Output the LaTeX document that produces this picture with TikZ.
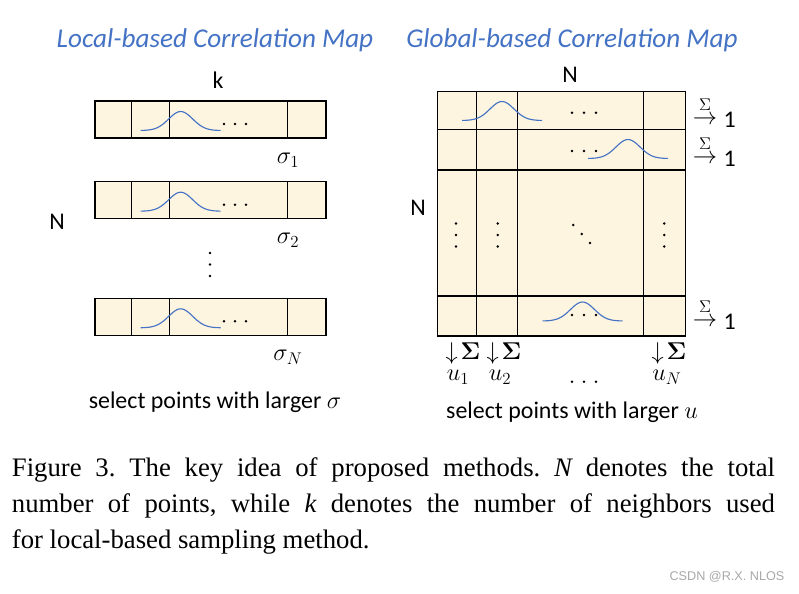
\documentclass[tikz,border=0pt]{standalone}
\usepackage{amsmath,amssymb}
\usepackage{fontspec}
\setmainfont{Carlito}
\newfontfamily\capfont{Liberation Serif}
\newfontfamily\wmfont{Liberation Sans}
\usetikzlibrary{positioning,calc}
\definecolor{mapblue}{HTML}{4472C4}
\definecolor{cellfill}{HTML}{FEF5E0}
\definecolor{wmgray}{HTML}{A8A8A8}
% gaussian bump: centre x, base y, height
\newcommand{\gaussbump}[3]{\draw[gauss] plot[domain=-40:40,samples=41,smooth] ({#1+\x},{#2-#3*exp(-((\x/12)^2)/2)});}

\begin{document}
\begin{tikzpicture}[x=0.025cm,y=-0.025cm,
  maptitle/.style={font=\fontsize{19.3}{22}\selectfont\itshape, text=mapblue},
  lbl/.style={font=\fontsize{17}{20}\selectfont, inner sep=1pt},
  sumlbl/.style={font=\fontsize{16}{16}\selectfont, inner sep=0pt},
  sigmalbl/.style={font=\fontsize{12.5}{13}\selectfont, inner sep=0pt},
  cell/.style={draw=black, fill=cellfill, line width=0.8pt},
  gridline/.style={draw=black, line width=0.8pt},
  gauss/.style={draw=mapblue, line width=0.8pt},
  dotmark/.style={fill=black, draw=none}
]
  \useasboundingbox (0,0) rectangle (799,593);

  % left: local-based map
  \node[maptitle] (ltitle) at (215,40) {Local-based Correlation Map};
  \node[lbl] (k) at (218,80) {k};
  \node[lbl] (nleft) at (57,222) {N};
  \foreach \t/\s/\name in {101/1/r1, 181.7/2/r2, 298.3/N/rN}{
    \draw[cell] (95,\t) rectangle (326,\t+37);
    \foreach \vx in {131.7,169.3,287.7}
      \draw[gridline] (\vx,\t) -- (\vx,\t+37);
    \gaussbump{180.7}{\t+29.5}{19}
    \foreach \dx in {224,235,246}
      \fill[dotmark] (\dx,\t+23) circle (1.4);
  }
  \node[lbl] (sig1) at (288,160) {$\sigma_1$};
  \node[lbl] (sig2) at (288,240) {$\sigma_2$};
  \node[lbl] (sigN) at (288,357) {$\sigma_N$};
  \foreach \dy in {253,264.5,276}
    \fill[dotmark] (210,\dy) circle (1.4);
  \node[lbl] (lsel) at (215,402) {select points with larger $\sigma$};

  % right: global-based map
  \node[maptitle] (gtitle) at (572,40) {Global-based Correlation Map};
  \node[lbl] (ntop) at (570,75) {N};
  \node[lbl] (nright) at (418,208) {N};
  \draw[cell] (437.3,91.7) rectangle (685.3,336);
  \foreach \hy in {129.3,170,296}
    \draw[gridline] (437.3,\hy) -- (685.3,\hy);
  \foreach \vx in {476.7,517.3,643.7}
    \draw[gridline] (\vx,91.7) -- (\vx,336);
  \gaussbump{502}{120.5}{19}
  \gaussbump{628}{158.5}{19}
  \gaussbump{582.5}{321}{19}
  \foreach \ry in {112.7,151,315}
    \foreach \dx in {572,584,596}
      \fill[dotmark] (\dx,\ry) circle (1.4);
  \foreach \vx in {456,497.7,664.3}
    \foreach \dy in {223.5,235,246.5}
      \fill[dotmark] (\vx,\dy) circle (1.4);
  \foreach \px/\py in {573.3/225,581.7/234,590/243}
    \fill[dotmark] (\px,\py) circle (1.4);

  % row sums
  \foreach \ry/\name in {120/s1, 159/s2, 322/sN}{
    \node[sumlbl] (\name arr) at (705,\ry) {$\rightarrow$};
    \node[sigmalbl] (\name sig) at (705,\ry-15) {$\Sigma$};
    \node[lbl, anchor=west] (\name one) at (722,\ry) {1};
  }

  % column sums
  \node[lbl] (c1) at (463,353) {$\downarrow\!\boldsymbol{\Sigma}$};
  \node[lbl] (c2) at (504,353) {$\downarrow\!\boldsymbol{\Sigma}$};
  \node[lbl] (cN) at (669,353) {$\downarrow\!\boldsymbol{\Sigma}$};
  \node[lbl] (u1) at (458,377) {$u_1$};
  \node[lbl] (u2) at (500,377) {$u_2$};
  \node[lbl] (uN) at (667,377) {$u_N$};
  \foreach \dx in {572,584,596}
    \fill[dotmark] (\dx,381.7) circle (1.4);
  \node[lbl] (gsel) at (572,412) {select points with larger $u$};

  % caption
  \node[anchor=center, inner sep=0pt, text width=19.075cm, align=justify,
        font=\capfont\fontsize{19}{25.6}\selectfont] (caption) at (393.5,506)
    {\frenchspacing Figure 3. The key idea of proposed methods. {\itshape N} denotes the total\linebreak
     number of points, while {\itshape k} denotes the number of neighbors used\linebreak
     for local-based sampling method.};
  \node[font=\wmfont\fontsize{9}{11}\selectfont, text=wmgray] (wm) at (727,577) {CSDN @R.X. NLOS};
\end{tikzpicture}
\end{document}
